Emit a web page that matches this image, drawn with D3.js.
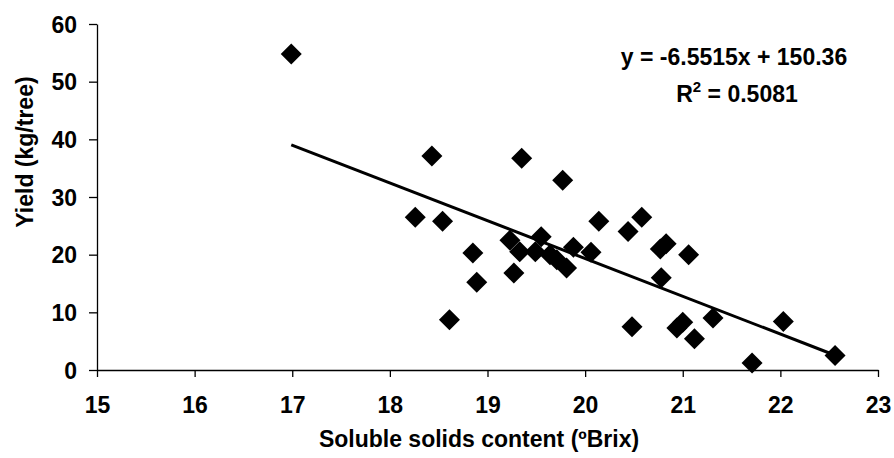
<!DOCTYPE html>
<html>
<head>
<meta charset="utf-8">
<script src="https://cdn.jsdelivr.net/npm/d3@7"></script>
<style>
  body { margin: 0; background: #fff; }
  text { font-family: "Liberation Sans", Arial, sans-serif; font-weight: bold; fill: #000; }
</style>
</head>
<body>
<div id="chart"></div>
<script>
// soluble solids (ºBrix) vs yield (kg/tree)
const brix = [16.99, 18.26, 18.43, 18.54, 18.85, 18.89, 18.61, 19.35, 19.77, 20.14,
  19.27, 19.23, 19.33, 19.55, 19.49, 19.64, 19.71, 19.81, 19.88, 20.06,
  20.58, 20.44, 20.77, 20.83, 21.06, 20.78, 21.31, 20.48, 20.94, 21.0,
  21.12, 21.71, 22.03, 22.56];
const yieldKg = [54.8, 26.5, 37.1, 25.8, 20.3, 15.2, 8.7, 36.7, 32.9, 25.8,
  16.8, 22.5, 20.5, 23.1, 20.5, 20.0, 19.1, 17.7, 21.3, 20.4,
  26.5, 24.0, 21.0, 21.9, 20.0, 16.0, 9.0, 7.5, 7.3, 8.3,
  5.4, 1.2, 8.4, 2.5];

const xTicks = [15, 16, 17, 18, 19, 20, 21, 22, 23];
const yTicks = [0, 10, 20, 30, 40, 50, 60];

// linear trend reported in the chart
const slope = -6.5515, intercept = 150.36, r2 = 0.5081;

const W = 894, H = 458;
const margin = { top: 24, left: 97, right: 16, bottom: 88 };
const width = W - margin.left - margin.right,
  height = H - margin.top - margin.bottom;

const svg = d3.select("#chart").append("svg")
  .attr("width", W)
  .attr("height", H)
  .append("g")
  .attr("transform", `translate(${margin.left},${margin.top})`);

const x = d3.scaleLinear().domain([15, 23]).range([0, 781]);
const y = d3.scaleLinear().domain([0, 60]).range([height, 0]);

// axes
const xAxis = svg.append("g")
  .attr("transform", `translate(0,${height})`)
  .call(d3.axisBottom(x).tickValues(xTicks).tickSize(7).tickSizeOuter(0).tickPadding(20));
const yAxis = svg.append("g")
  .call(d3.axisLeft(y).tickValues(yTicks).tickSize(8).tickSizeOuter(0).tickPadding(12));

[xAxis, yAxis].forEach(a => {
  a.select(".domain").attr("stroke", "#000").attr("stroke-width", 1.3);
  a.selectAll(".tick line").attr("stroke", "#000").attr("stroke-width", 1.3);
  a.selectAll(".tick text").style("font-size", "23px").style("font-family", "Liberation Sans, Arial, sans-serif").style("font-weight", "bold");
});
yAxis.selectAll(".tick text").attr("dy", "0.36em");

// trend line across the data range
const xr = d3.extent(brix);
svg.append("path")
  .datum(xr)
  .attr("fill", "none")
  .attr("stroke", "#000")
  .attr("stroke-width", 3)
  .attr("d", d3.line()
    .x(d => x(d))
    .y(d => y(slope * d + intercept)));

// diamonds
svg.selectAll(".pt")
  .data(brix.map((b, i) => [b, yieldKg[i]]))
  .enter().append("path")
  .attr("class", "pt")
  .attr("transform", d => `translate(${x(d[0])},${y(d[1])})`)
  .attr("d", "M0,-10.5L10.5,0L0,10.5L-10.5,0Z")
  .attr("fill", "#000");

// equation
svg.append("text")
  .attr("x", 637)
  .attr("y", 41)
  .attr("text-anchor", "middle")
  .style("font-size", "23px")
  .text(`y = ${slope}x + ${intercept}`);
const r = svg.append("text")
  .attr("x", 640)
  .attr("y", 78)
  .attr("text-anchor", "middle")
  .style("font-size", "23px");
r.append("tspan").text("R");
r.append("tspan").attr("dy", -10).style("font-size", "15px").text("2");
r.append("tspan").attr("dy", 10).text(` = ${r2}`);

// axis titles
svg.append("text")
  .attr("x", 382)
  .attr("y", height + 77)
  .attr("text-anchor", "middle")
  .style("font-size", "23px")
  .text("Soluble solids content (ºBrix)");

svg.append("text")
  .attr("transform", "rotate(-90)")
  .attr("x", -128)
  .attr("y", -64)
  .attr("text-anchor", "middle")
  .style("font-size", "23px")
  .text("Yield (kg/tree)");
</script>
</body>
</html>
